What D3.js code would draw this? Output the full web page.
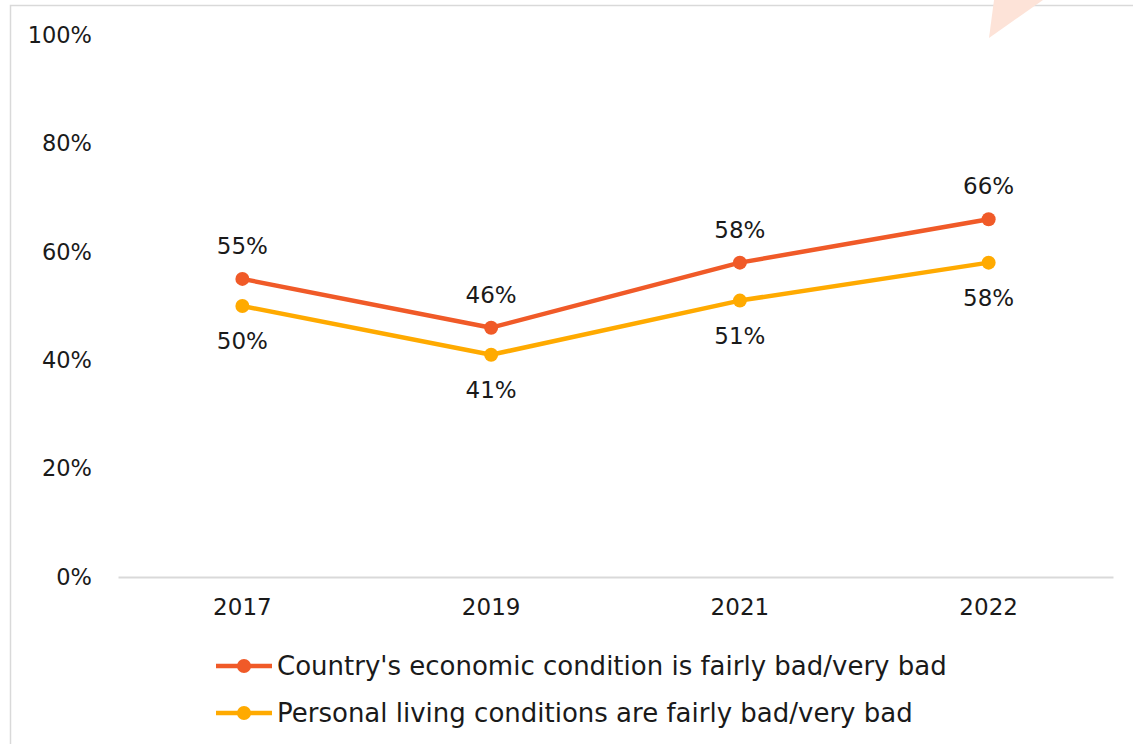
<!DOCTYPE html>
<html>
<head>
<meta charset="utf-8">
<script src="https://cdn.jsdelivr.net/npm/d3@7"></script>
<style>
  html, body { margin: 0; padding: 0; background: #fff; }
  svg { display: block; font-family: "Century Gothic", "DejaVu Sans", sans-serif; }
</style>
</head>
<body>
<svg id="chart" width="1133" height="744"></svg>
<script>
// Survey years and shares of respondents (percent)
const years = ["2017", "2019", "2021", "2022"];
const economyBad = [55, 46, 58, 66];
const livingBad = [50, 41, 51, 58];
const seriesNames = [
  "Country's economic condition is fairly bad/very bad",
  "Personal living conditions are fairly bad/very bad"
];
const seriesColors = ["#F05A28", "#FFAA00"];
const yTicks = [0, 20, 40, 60, 80, 100];

const svg = d3.select("#chart");
const W = 1133, H = 744;

// Chart area frame
svg.append("rect")
  .attr("x", 10.5).attr("y", 5.5)
  .attr("width", W + 20).attr("height", H + 20)
  .attr("fill", "#fff").attr("stroke", "#d9d9d9").attr("stroke-width", 1.5);

// Decorative corner wedge
svg.append("path")
  .attr("d", "M989,38 L994,0 L1043,0 Z")
  .attr("fill", "#fde3d8");

const plot = { left: 118, right: 1113, top: 35, bottom: 577 };

const x = d3.scaleBand().domain(years).range([plot.left, plot.right]);
const y = d3.scaleLinear().domain([0, 100]).range([plot.bottom, plot.top]);
const cx = d => x(d) + x.bandwidth() / 2;

// Y axis labels
const yAxis = d3.axisLeft(y).tickValues(yTicks).tickFormat(d => d + "%").tickSize(0).tickPadding(26);
const gy = svg.append("g").attr("transform", `translate(${plot.left},0)`).call(yAxis);
gy.attr("font-family", null).attr("font-size", null);
gy.select(".domain").remove();
gy.selectAll("text").attr("font-size", 22.5).attr("fill", "#1a1a1a");

// X axis
const xAxis = d3.axisBottom(x).tickSize(0).tickPadding(22);
const gx = svg.append("g").attr("transform", `translate(0,${plot.bottom})`).call(xAxis);
gx.attr("font-family", null).attr("font-size", null);
gx.select(".domain").attr("stroke", "#d9d9d9").attr("stroke-width", 2);
gx.selectAll("text").attr("font-size", 23).attr("fill", "#1a1a1a");

const series = [economyBad, livingBad];
const line = d3.line().x((d, i) => cx(years[i])).y(d => y(d));

series.forEach((vals, s) => {
  svg.append("path")
    .datum(vals)
    .attr("d", line)
    .attr("fill", "none")
    .attr("stroke", seriesColors[s])
    .attr("stroke-width", 4.5)
    .attr("stroke-linejoin", "round");
  svg.selectAll(null).data(vals).enter().append("circle")
    .attr("cx", (d, i) => cx(years[i]))
    .attr("cy", d => y(d))
    .attr("r", 7)
    .attr("fill", seriesColors[s]);
  // Value labels: upper series above, lower series below
  svg.selectAll(null).data(vals).enter().append("text")
    .attr("x", (d, i) => cx(years[i]))
    .attr("y", d => y(d) + (s === 0 ? -25 : 43))
    .attr("text-anchor", "middle")
    .attr("font-size", 23)
    .attr("fill", "#1a1a1a")
    .text(d => d + "%");
});

// Legend
const legend = svg.append("g");
seriesNames.forEach((name, s) => {
  const ly = 666 + s * 47;
  legend.append("line")
    .attr("x1", 216).attr("x2", 272).attr("y1", ly).attr("y2", ly)
    .attr("stroke", seriesColors[s]).attr("stroke-width", 4.5);
  legend.append("circle")
    .attr("cx", 244).attr("cy", ly).attr("r", 7).attr("fill", seriesColors[s]);
  legend.append("text")
    .attr("x", 277).attr("y", ly + 9)
    .attr("font-size", 26)
    .attr("fill", "#1a1a1a")
    .text(name);
});
</script>
</body>
</html>
